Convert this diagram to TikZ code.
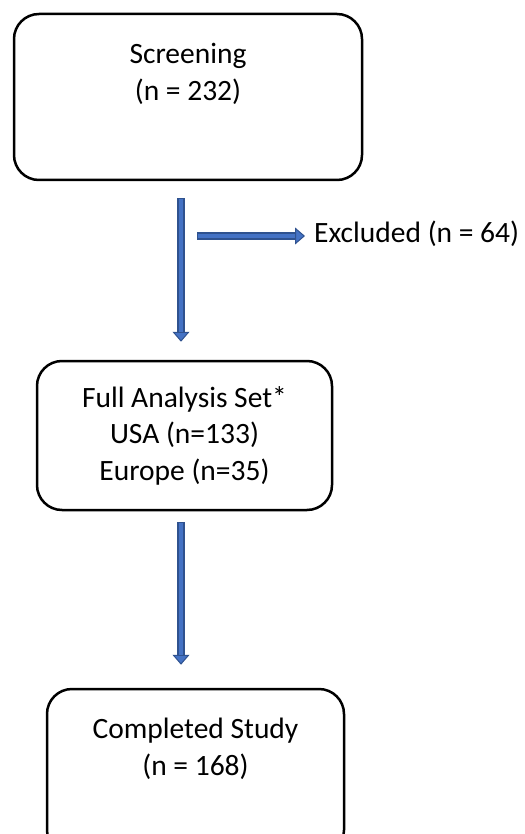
\documentclass[tikz,border=0pt]{standalone}
\usepackage{fontspec}
\setmainfont{Carlito}
\usetikzlibrary{arrows.meta}
\definecolor{flowedge}{HTML}{2F528F}
\definecolor{flowfill}{HTML}{4472C4}
\tikzset{
  stage/.style={draw=black, line width=2.5pt, rounded corners=25pt, inner sep=0pt,
                align=center, font=\fontsize{29.5}{36.5}\selectfont},
  note/.style={inner sep=0pt, font=\fontsize{29.5}{36.5}\selectfont},
  flow/.style 2 args={draw=flowedge, line width=7.5pt, shorten <=#1, shorten >=#2,
                      -{Triangle[width=17pt,length=10pt,line width=1pt,fill=flowfill]},
                      postaction={draw=flowfill, line width=3.5pt, -,
                                  shorten <=#1+1pt, shorten >=#2+10pt}},
}

\begin{document}
\begin{tikzpicture}[x=1pt,y=-1pt]
\path[use as bounding box, clip] (0,0) rectangle (524,834);

% boxes
\node[stage, minimum width=348pt, minimum height=166pt] (screen) at (188,97)
  {Screening\\(n = 232)\\[14pt]\mbox{}};
\node[stage, minimum width=295pt, minimum height=149pt] (fas) at (184.5,435.5)
  {Full Analysis Set*\\USA (n=133)\\Europe (n=35)};
\node[stage, minimum width=297pt, minimum height=166pt] (done) at (195.5,772)
  {Completed Study\\(n = 168)\\[14pt]\mbox{}};
\node[note, anchor=base west] (excl) at (314,242) {Excluded (n = 64)};

% arrows
\coordinate (spine) at (181,0);
\coordinate (branch) at (197,236);
\draw[flow={17pt}{18pt}] (screen.south -| spine) -- (fas.north -| spine);
\draw[flow={0pt}{9pt}] (branch) -- (branch -| excl.west);
\draw[flow={11pt}{23pt}] (fas.south -| spine) -- (done.north -| spine);
\end{tikzpicture}
\end{document}
